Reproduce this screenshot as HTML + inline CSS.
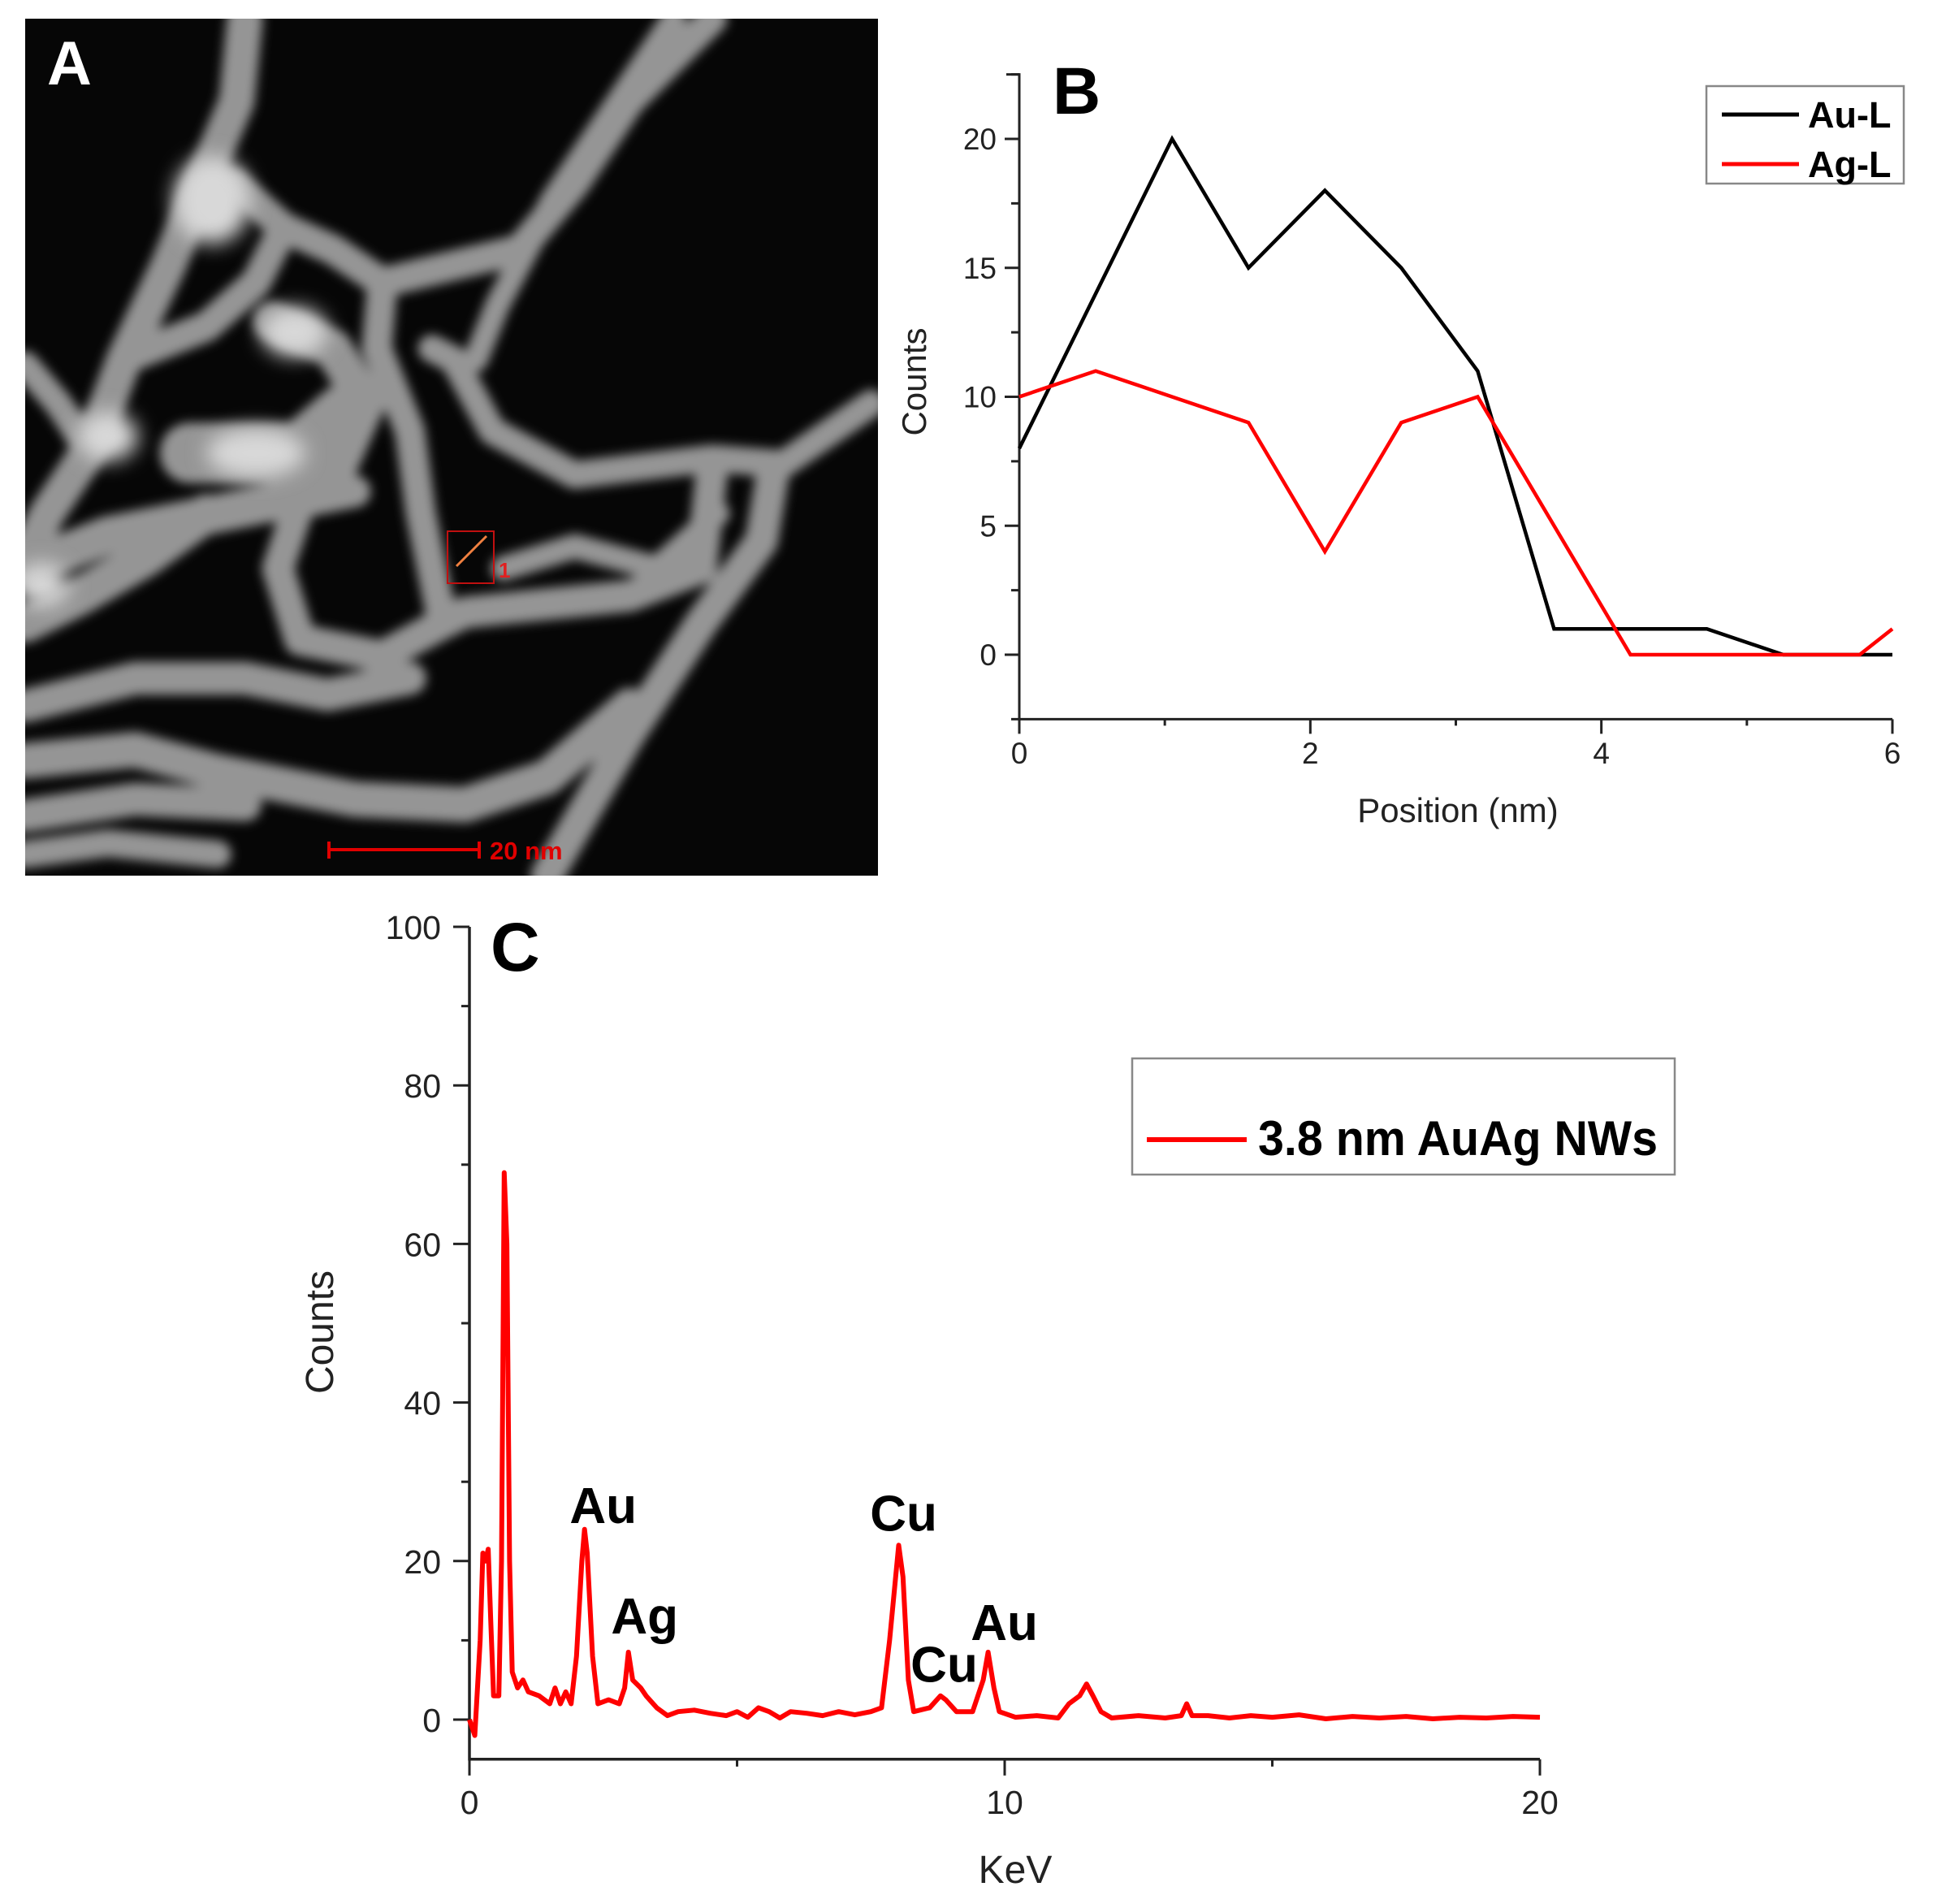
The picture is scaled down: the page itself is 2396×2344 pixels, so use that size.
<!DOCTYPE html>
<html><head><meta charset="utf-8"><style>
html,body{margin:0;padding:0;background:#fff}
svg{display:block}
text{font-family:"Liberation Sans",sans-serif}
</style></head><body>
<svg id="fig" width="2396" height="2344" viewBox="0 0 2396 2344" xmlns="http://www.w3.org/2000/svg">
<defs>
<filter id="blur" x="-10%" y="-10%" width="120%" height="120%"><feGaussianBlur stdDeviation="10"/></filter>
<filter id="blur2" x="-20%" y="-20%" width="140%" height="140%"><feGaussianBlur stdDeviation="18"/></filter>
<clipPath id="aclip"><rect x="0" y="0" width="1552" height="1559"/></clipPath>
</defs>

<!-- Panel A: micrograph -->
<g>
<svg x="31" y="23" width="1050" height="1055" viewBox="0 0 1552 1559" preserveAspectRatio="none">
<rect width="1552" height="1559" fill="#060606"/>
<g clip-path="url(#aclip)" fill="none" stroke="#959595" stroke-linecap="round" stroke-linejoin="round" filter="url(#blur)">
<path d="M400,0 L385,150 L330,280 L260,450 L180,620 L120,780 L40,900 L0,980" stroke-width="65"/>
<path d="M1250,0 L1100,150 L1000,300 L900,420 L650,480 L560,420 L470,380 L380,300" stroke-width="55"/>
<path d="M1180,0 L1060,180 L960,330 L860,520 L820,620" stroke-width="45"/>
<path d="M650,480 L640,600 L700,750 L720,900 L760,1100" stroke-width="55"/>
<path d="M1540,700 L1380,810 L1250,800 L1000,830 L850,750 L780,620 L740,600" stroke-width="50"/>
<path d="M1360,830 L1340,950 L1230,1100 L1100,1300 L950,1559" stroke-width="60"/>
<path d="M1250,820 L1230,1000 L1100,1050 L800,1080 L760,1100 L650,1160 L500,1130 L460,1000 L500,880 L600,860" stroke-width="58"/>
<path d="M870,1000 L1000,960 L1150,1000 L1260,900" stroke-width="45"/>
<path d="M0,1000 L150,940 L350,900 L550,860 L620,700 L560,600 L450,550" stroke-width="70"/>
<path d="M300,790 L500,790 L580,720" stroke-width="110"/>
<path d="M0,1250 L200,1200 L400,1200 L550,1230 L700,1200" stroke-width="60"/>
<path d="M0,1350 L200,1330 L350,1370 L450,1390 L600,1420 L800,1430 L950,1380 L1100,1250" stroke-width="65"/>
<path d="M0,1450 L200,1420 L400,1430" stroke-width="60"/>
<path d="M0,1100 L100,1050 L220,980 L330,900" stroke-width="70"/>
<path d="M0,630 L60,700 L100,760" stroke-width="50"/>
<path d="M180,620 L330,560 L420,480 L470,380" stroke-width="55"/>
<path d="M0,1520 L150,1500 L350,1520" stroke-width="50"/>
</g>
<g fill="#d8d8d8" filter="url(#blur2)">
<ellipse cx="340" cy="330" rx="70" ry="80"/>
<ellipse cx="150" cy="760" rx="55" ry="45"/>
<ellipse cx="490" cy="570" rx="60" ry="45"/>
<ellipse cx="420" cy="790" rx="90" ry="45"/>
<ellipse cx="30" cy="1030" rx="50" ry="40"/>
</g>
</svg>
<text x="58" y="104" font-size="76" font-weight="bold" fill="#fff">A</text>
<rect x="551" y="654" width="57" height="64" fill="none" stroke="#c01010" stroke-width="2"/>
<line x1="562" y1="697" x2="599" y2="660" stroke="#f08040" stroke-width="3"/>
<text x="614" y="711" font-size="26" font-weight="bold" fill="#e02020">1</text>
<g>
<line x1="405" y1="1046" x2="590" y2="1046" stroke="#e00000" stroke-width="4"/>
<line x1="405" y1="1036" x2="405" y2="1057" stroke="#e00000" stroke-width="4"/>
<line x1="590" y1="1036" x2="590" y2="1057" stroke="#e00000" stroke-width="4"/>
<text x="603" y="1058" font-size="31" font-weight="bold" fill="#e00000">20 nm</text>
</g>
</g>

<g id="panelB"></g>
<g id="panelC"></g>
</svg>
<script>
// ---------- Panel B data ----------
const bPositions = [0, 0.525, 1.05, 1.575, 2.1, 2.625, 3.15, 3.675, 4.2, 4.725, 5.25, 5.775, 6];
const bAuL = [8, 14, 20, 15, 18, 15, 11, 1, 1, 1, 0, 0, 0];
const bAgL = [10, 11, 10, 9, 4, 9, 10, 5, 0, 0, 0, 0, 1];
const bXTicks = ["0", "2", "4", "6"];
const bYTicks = ["0", "5", "10", "15", "20"];

// ---------- Panel C data ----------
const cEnergy = [0,0.1,0.2,0.25,0.3,0.35,0.4,0.45,0.55,0.6,0.65,0.7,0.75,0.8,0.9,1.0,1.1,1.3,1.5,1.6,1.7,1.8,1.9,2.0,2.1,2.15,2.2,2.3,2.4,2.6,2.8,2.9,2.97,3.05,3.2,3.3,3.5,3.7,3.9,4.2,4.5,4.8,5.0,5.2,5.4,5.6,5.8,6.0,6.3,6.6,6.9,7.2,7.5,7.7,7.85,8.02,8.1,8.2,8.3,8.6,8.8,8.9,9.1,9.4,9.6,9.69,9.8,9.9,10.2,10.6,11.0,11.2,11.4,11.53,11.65,11.8,12.0,12.5,13.0,13.3,13.4,13.5,13.8,14.2,14.6,15.0,15.5,16.0,16.5,17.0,17.5,18.0,18.5,19.0,19.5,20];
const cCounts = [0,-2,10,21,20,21.5,12,3,3,20,69,60,20,6,4,5,3.5,3,2,4,2,3.5,2,8,20,24,21,8,2,2.5,2,4,8.5,5,4,3,1.5,0.5,1,1.2,0.8,0.5,1,0.3,1.5,1,0.2,1,0.8,0.5,1,0.6,1,1.5,10,22,18,5,1,1.5,3,2.5,1,1,5,8.5,4,1,0.3,0.5,0.2,2,3,4.5,3,1,0.2,0.5,0.2,0.5,2,0.5,0.5,0.2,0.5,0.3,0.6,0.1,0.4,0.2,0.4,0.1,0.3,0.2,0.4,0.3];
const cXTicks = ["0", "10", "20"];
const cYTicks = ["0", "20", "40", "60", "80", "100"];
const cPeakLabels = ["Au", "Ag", "Cu", "Cu", "Au"];
const cPeakEnergy = [2.15, 2.97, 8.02, 8.9, 9.69];
const cPeakCounts = [24, 8.5, 22, 3, 8.5];

const NS = "http://www.w3.org/2000/svg";
function mk(parent, tag, attrs, txt) {
  const e = document.createElementNS(NS, tag);
  for (const k in attrs) e.setAttribute(k, attrs[k]);
  if (txt !== undefined) e.textContent = txt;
  parent.appendChild(e);
  return e;
}

// ---------- Panel B ----------
(function () {
  const g = document.getElementById("panelB");
  const X0 = 1255, X1 = 2330, Y0 = 806, YT = 171;
  const xs = v => X0 + (v / 6) * (X1 - X0);
  const ys = v => Y0 - (v / 20) * (Y0 - YT);
  const yBot = ys(-2.5), yTop = ys(22.5);
  const ax = mk(g, "path", { d: `M${X0 - 1},${yTop} L${X0},${yTop} L${X0},${yBot} L${X1},${yBot}`, fill: "none", stroke: "#222", "stroke-width": 3 });
  
  
  mk(g, "line", { x1: X0 - 16, y1: yTop, x2: X0, y2: yTop, stroke: "#222", "stroke-width": 3 });
  for (let v = -2.5; v <= 22.5; v += 2.5) {
    const major = Math.abs(v % 5) < 1e-6;
    mk(g, "line", { x1: X0 - (major ? 18 : 10), y1: ys(v), x2: X0, y2: ys(v), stroke: "#222", "stroke-width": 3 });
  }
  bYTicks.forEach(t => {
    const el = mk(g, "text", { x: X0 - 28, y: ys(+t) + 13, "font-size": 37, "text-anchor": "end", fill: "#222" }, t);
    
    
  });
  for (let v = 0; v <= 6; v += 1) {
    const major = v % 2 === 0;
    mk(g, "line", { x1: xs(v), y1: yBot, x2: xs(v), y2: yBot + (major ? 18 : 8), stroke: "#222", "stroke-width": 3 });
  }
  bXTicks.forEach(t => {
    const el = mk(g, "text", { x: xs(+t), y: 940, "font-size": 37, "text-anchor": "middle", fill: "#222" }, t);
    
    
  });
  const xl = mk(g, "text", { x: 1795, y: 1012, "font-size": 42, "text-anchor": "middle", fill: "#222" }, "Position (nm)");
  
  
  const yl = mk(g, "text", { x: 0, y: 0, "font-size": 42, "text-anchor": "middle", fill: "#222", transform: "translate(1140,470) rotate(-90)" }, "Counts");
  
  
  const bl = mk(g, "text", { x: 1296, y: 140, "font-size": 82, "font-weight": "bold", fill: "#000" }, "B");
  
  
  const ptsAu = bPositions.map((p, i) => xs(p) + "," + ys(bAuL[i])).join(" ");
  const ptsAg = bPositions.map((p, i) => xs(p) + "," + ys(bAgL[i])).join(" ");
  const la = mk(g, "polyline", { points: ptsAu, fill: "none", stroke: "#000", "stroke-width": 4.5, "stroke-linejoin": "miter" });
  
  
  const lg = mk(g, "polyline", { points: ptsAg, fill: "none", stroke: "#ff0000", "stroke-width": 4.5 });
  
  
  const leg = mk(g, "g", {});
  
  
  mk(leg, "rect", { x: 2101, y: 106, width: 243, height: 120, fill: "#fff", stroke: "#888", "stroke-width": 2.5 });
  mk(leg, "line", { x1: 2120, y1: 141, x2: 2215, y2: 141, stroke: "#000", "stroke-width": 5 });
  mk(leg, "line", { x1: 2120, y1: 202, x2: 2215, y2: 202, stroke: "#ff0000", "stroke-width": 5 });
  mk(leg, "text", { x: 2226, y: 157, "font-size": 45, "font-weight": "bold", fill: "#000" }, "Au-L");
  mk(leg, "text", { x: 2226, y: 218, "font-size": 45, "font-weight": "bold", fill: "#000" }, "Ag-L");
})();

// ---------- Panel C ----------
(function () {
  const g = document.getElementById("panelC");
  const X0 = 578, X1 = 1896, Y0 = 2117, YT = 1141;
  const xs = v => X0 + (v / 20) * (X1 - X0);
  const ys = v => Y0 - (v / 100) * (Y0 - YT);
  const yBot = ys(-5);
  const ax = mk(g, "path", { d: `M${X0},${YT} L${X0},${yBot} L${X1},${yBot}`, fill: "none", stroke: "#222", "stroke-width": 3.5 });
  
  
  for (let v = 0; v <= 100; v += 10) {
    const major = v % 20 === 0;
    mk(g, "line", { x1: X0 - (major ? 20 : 10), y1: ys(v), x2: X0, y2: ys(v), stroke: "#222", "stroke-width": 3 });
  }
  cYTicks.forEach(t => {
    const el = mk(g, "text", { x: 543, y: ys(+t) + 15, "font-size": 41, "text-anchor": "end", fill: "#222" }, t);
    
    
  });
  for (let v = 0; v <= 20; v += 5) {
    const major = v % 10 === 0;
    mk(g, "line", { x1: xs(v), y1: yBot, x2: xs(v), y2: yBot + (major ? 20 : 9), stroke: "#222", "stroke-width": 3 });
  }
  cXTicks.forEach(t => {
    const el = mk(g, "text", { x: xs(+t), y: 2233, "font-size": 41, "text-anchor": "middle", fill: "#222" }, t);
    
    
  });
  const xl = mk(g, "text", { x: 1250, y: 2318, "font-size": 48, "text-anchor": "middle", fill: "#222" }, "KeV");
  
  
  const yl = mk(g, "text", { x: 0, y: 0, "font-size": 48, "text-anchor": "middle", fill: "#222", transform: "translate(410,1640) rotate(-90)" }, "Counts");
  
  
  const cl = mk(g, "text", { x: 604, y: 1195, "font-size": 84, "font-weight": "bold", fill: "#000", "font-family": "Liberation Sans Narrow, Liberation Sans, sans-serif" }, "C");
  
  
  const pts = cEnergy.map((e, i) => xs(e).toFixed(1) + "," + ys(cCounts[i]).toFixed(1)).join(" ");
  const sp = mk(g, "polyline", { points: pts, fill: "none", stroke: "#ff0000", "stroke-width": 6, "stroke-linejoin": "round" });
  
  
  const offsets = [[23, 8], [20, 23], [6, 18], [-2, 17], [20, 15]];
  cPeakLabels.forEach((lab, i) => {
    const el = mk(g, "text", { x: xs(cPeakEnergy[i]) + offsets[i][0], y: ys(cPeakCounts[i]) - offsets[i][1], "font-size": 62, "font-weight": "bold", "text-anchor": "middle", fill: "#000", "font-family": "Liberation Sans Narrow, Liberation Sans, sans-serif" }, lab);
    
    
  });
  const leg = mk(g, "g", {});
  
  
  mk(leg, "rect", { x: 1394, y: 1303, width: 668, height: 143, fill: "#fff", stroke: "#888", "stroke-width": 2.5 });
  mk(leg, "line", { x1: 1412, y1: 1403, x2: 1535, y2: 1403, stroke: "#ff0000", "stroke-width": 6 });
  mk(leg, "text", { x: 1549, y: 1422, "font-size": 60, "font-weight": "bold", fill: "#000", textLength: 492, lengthAdjust: "spacingAndGlyphs" }, "3.8 nm AuAg NWs");
})();
</script>
</body></html>
